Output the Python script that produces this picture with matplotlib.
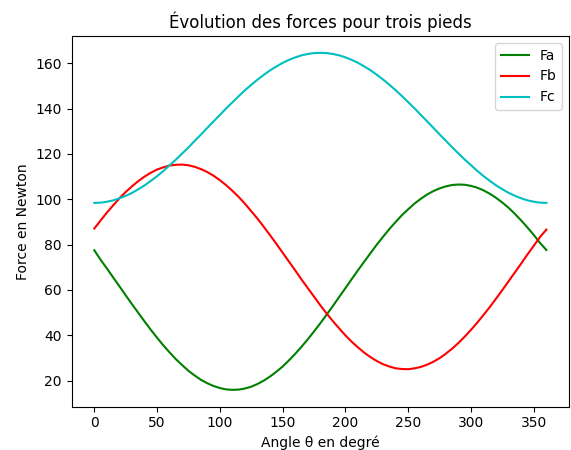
import matplotlib
matplotlib.use('Agg')
import matplotlib.pyplot as plt

# angles in degrees, values every 5 degrees
angles = list(range(0, 361, 5))

fa = [77.5, 73.3, 69.5, 65.5, 61.6, 57.6, 53.7, 49.9, 46.1, 42.4,
      38.9, 35.5, 32.4, 29.4, 26.8, 24.3, 22.2, 20.3, 18.8, 17.6,
      16.7, 16.1, 15.9, 16.0, 16.5, 17.3, 18.5, 20.0, 21.8, 23.9,
      26.2, 28.9, 31.8, 34.9, 38.2, 41.7, 45.3, 49.1, 52.9, 56.9,
      60.8, 64.8, 68.7, 72.5, 76.3, 80.0, 83.5, 86.9, 90.0, 93.0,
      95.6, 98.1, 100.2, 102.1, 103.6, 104.8, 105.7, 106.3, 106.5, 106.4,
      105.9, 105.1, 103.9, 102.4, 100.6, 98.5, 96.2, 93.5, 90.6, 87.5,
      84.2, 80.7, 77.6]

fb = [87.1, 90.6, 94.1, 97.3, 100.4, 103.2, 105.7, 108.0, 110.0, 111.7,
      113.1, 114.1, 114.9, 115.2, 115.3, 115.0, 114.3, 113.3, 112.0, 110.4,
      108.4, 106.2, 103.7, 101.0, 98.0, 94.7, 91.4, 87.8, 84.1, 80.3,
      76.4, 72.5, 68.6, 64.6, 60.8, 57.0, 53.2, 49.6, 46.2, 43.0,
      39.9, 37.1, 34.6, 32.3, 30.3, 28.6, 27.2, 26.2, 25.4, 25.1,
      25.0, 25.4, 26.0, 27.0, 28.3, 29.9, 31.9, 34.1, 36.6, 39.4,
      42.4, 45.6, 49.0, 52.5, 56.2, 60.0, 63.9, 67.8, 71.7, 75.7,
      79.5, 83.4, 86.6]

fc = [98.4, 98.5, 98.9, 99.5, 100.4, 101.5, 102.8, 104.4, 106.1, 108.1,
      110.2, 112.5, 115.0, 117.5, 120.2, 122.9, 125.8, 128.6, 131.5, 134.4,
      137.2, 140.1, 142.8, 145.5, 148.1, 150.5, 152.8, 154.9, 156.9, 158.6,
      160.2, 161.5, 162.6, 163.5, 164.1, 164.5, 164.6, 164.5, 164.1, 163.5,
      162.6, 161.5, 160.2, 158.6, 156.9, 154.9, 152.8, 150.5, 148.1, 145.5,
      142.8, 140.1, 137.2, 134.4, 131.5, 128.6, 125.8, 122.9, 120.2, 117.5,
      115.0, 112.5, 110.2, 108.1, 106.1, 104.4, 102.8, 101.5, 100.4, 99.5,
      98.9, 98.5, 98.4]

fig = plt.figure(figsize=(5.71, 4.5), dpi=100)
ax = fig.add_axes([71.7 / 571, 1 - 406.7 / 450, (569 - 71.7) / 571, (406.7 - 36) / 450])

ax.plot(angles, fa, color='g', label='Fa')
ax.plot(angles, fb, color='r', label='Fb')
ax.plot(angles, fc, color='c', label='Fc')

ax.set_title('Évolution des forces pour trois pieds')
ax.set_xlabel('Angle θ en degré')
ax.set_ylabel('Force en Newton')
ax.legend(loc='upper right')

fig.savefig('out.png', dpi=100)
